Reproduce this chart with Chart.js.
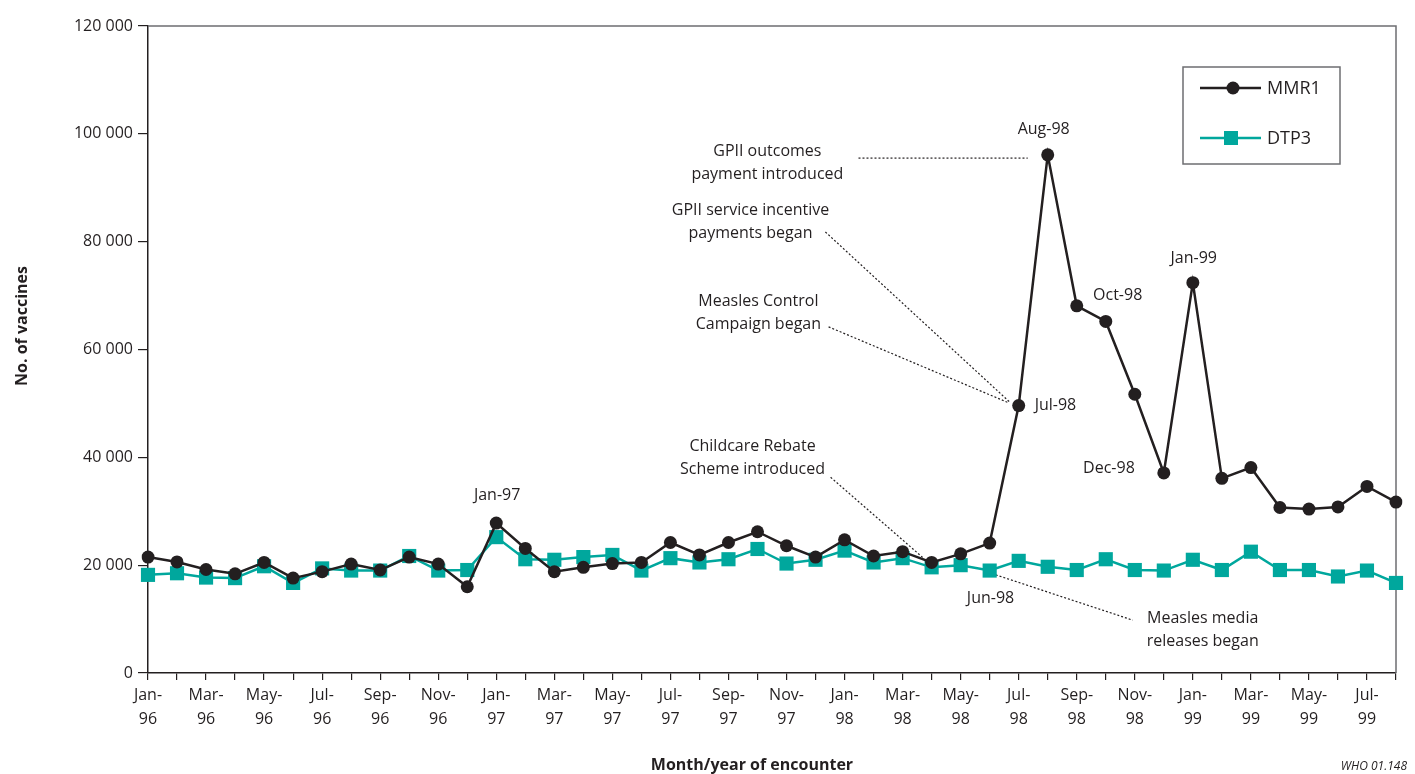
<!DOCTYPE html>
<html>
<head>
<meta charset="utf-8">
<script src="https://cdn.jsdelivr.net/npm/chart.js@4/dist/chart.umd.min.js"></script>
<style>
  html, body { margin: 0; padding: 0; background: #fff; }
  #wrap { width: 1415px; height: 774px; position: relative; }
</style>
</head>
<body>
<div id="wrap"><canvas id="chart"></canvas></div>
<script>
const months = [
  'Jan-96','Feb-96','Mar-96','Apr-96','May-96','Jun-96','Jul-96','Aug-96','Sep-96','Oct-96','Nov-96','Dec-96',
  'Jan-97','Feb-97','Mar-97','Apr-97','May-97','Jun-97','Jul-97','Aug-97','Sep-97','Oct-97','Nov-97','Dec-97',
  'Jan-98','Feb-98','Mar-98','Apr-98','May-98','Jun-98','Jul-98','Aug-98','Sep-98','Oct-98','Nov-98','Dec-98',
  'Jan-99','Feb-99','Mar-99','Apr-99','May-99','Jun-99','Jul-99','Aug-99'
];

const mmr1 = [
  21500, 20600, 19200, 18400, 20500, 17600, 18800, 20200, 19100, 21500, 20200, 16000,
  27800, 23100, 18800, 19600, 20300, 20500, 24200, 21900, 24200, 26200, 23600, 21500,
  24700, 21700, 22500, 20500, 22100, 24100, 49600, 96100, 68100, 65200, 51700, 37100,
  72400, 36100, 38100, 30700, 30400, 30800, 34600, 31700
];

const dtp3 = [
  18200, 18500, 17700, 17600, 19800, 16700, 19400, 19000, 19000, 21700, 19000, 19100,
  25200, 21100, 21000, 21500, 21900, 19000, 21300, 20500, 21100, 23000, 20300, 21000,
  22700, 20500, 21300, 19600, 20000, 19000, 20800, 19700, 19100, 21100, 19100, 19000,
  21000, 19100, 22500, 19100, 19100, 17900, 19000, 16700
];

const yTicks = [0, 20000, 40000, 60000, 80000, 100000, 120000];

// labels: [text lines, x index, y value, align]
const pointLabels = [
  [['Jan-97'], 12.03, 33000, 'center'],
  [['Aug-98'], 30.86, 100900, 'center'],
  [['Oct-98'], 33.41, 70100, 'center'],
  [['Jan-99'], 36.03, 76800, 'center'],
  [['Jul-98'], 30.55, 49700, 'left'],
  [['Dec-98'], 34.0, 38000, 'right'],
  [['Jun-98'], 29.03, 13900, 'center']
];

const notes = [
  [['GPII outcomes', 'payment introduced'], 21.34, 96800],
  [['GPII service incentive', 'payments began'], 20.76, 85700],
  [['Measles Control', 'Campaign began'], 21.03, 69000],
  [['Childcare Rebate', 'Scheme introduced'], 20.83, 42100],
  [['Measles media', 'releases began'], 36.34, 10200]
];

// leader lines: x1, y1, x2, y2 in (index, value)
const leaders = [
  [24.48, 95500, 30.31, 95500],
  [23.34, 81800, 29.72, 50100],
  [23.45, 64200, 29.66, 50100],
  [23.52, 36300, 26.72, 21300],
  [29.21, 18200, 33.93, 9800]
];

const INK = '#231f20';
const TEAL = '#00a79d';
const FONT = '"Open Sans", "Noto Sans", sans-serif';

const fmt = v => String(v).replace(/\B(?=(\d{3})+(?!\d))/g, ' ');

const extras = {
  id: 'extras',
  beforeDatasetsDraw(chart) {
    const { ctx, chartArea: a } = chart;
    ctx.save();
    ctx.strokeStyle = '#6d6e71';
    ctx.lineWidth = 1.5;
    ctx.beginPath();
    ctx.moveTo(a.left, a.top);
    ctx.lineTo(a.right, a.top);
    ctx.lineTo(a.right, a.bottom);
    ctx.stroke();

    // leader lines
    const xs = chart.scales.x, ys = chart.scales.y;
    ctx.strokeStyle = INK;
    ctx.lineWidth = 1.2;
    ctx.setLineDash([2, 2]);
    leaders.forEach(([x1, y1, x2, y2]) => {
      ctx.beginPath();
      ctx.moveTo(xs.getPixelForValue(x1), ys.getPixelForValue(y1));
      ctx.lineTo(xs.getPixelForValue(x2), ys.getPixelForValue(y2));
      ctx.stroke();
    });
    ctx.restore();
  },
  afterDraw(chart) {
    const { ctx } = chart;
    const xs = chart.scales.x, ys = chart.scales.y;
    ctx.save();
    ctx.fillStyle = INK;
    ctx.textBaseline = 'middle';
    ctx.font = '16px ' + FONT;
    pointLabels.forEach(([lines, xi, yv, align]) => {
      ctx.textAlign = align;
      ctx.fillText(lines[0], xs.getPixelForValue(xi), ys.getPixelForValue(yv));
    });
    ctx.textAlign = 'center';
    notes.forEach(([lines, xi, yv]) => {
      const x = xs.getPixelForValue(xi), y = ys.getPixelForValue(yv);
      lines.forEach((t, i) => ctx.fillText(t, x, y + i * 23));
    });

    // legend
    ctx.strokeStyle = '#6d6e71';
    ctx.lineWidth = 1.5;
    ctx.strokeRect(1183, 67, 157, 97);
    ctx.lineWidth = 2.5;
    ctx.strokeStyle = INK;
    ctx.beginPath(); ctx.moveTo(1200, 88); ctx.lineTo(1261, 88); ctx.stroke();
    ctx.beginPath(); ctx.arc(1233, 88, 6.5, 0, Math.PI * 2); ctx.fill();
    ctx.strokeStyle = TEAL;
    ctx.fillStyle = TEAL;
    ctx.beginPath(); ctx.moveTo(1200, 138); ctx.lineTo(1261, 138); ctx.stroke();
    ctx.fillRect(1224, 131, 14, 14);
    ctx.fillStyle = INK;
    ctx.textAlign = 'left';
    ctx.font = '18px ' + FONT;
    ctx.fillText('MMR1', 1267, 89);
    ctx.fillText('DTP3', 1267, 139);

    // axis titles
    ctx.font = 'bold 16px ' + FONT;
    ctx.textAlign = 'center';
    ctx.fillText('Month/year of encounter', 752, 765);
    ctx.save();
    ctx.translate(22, 326);
    ctx.rotate(-Math.PI / 2);
    ctx.fillText('No. of vaccines', 0, 0);
    ctx.restore();

    ctx.font = 'italic 12px ' + FONT;
    ctx.textAlign = 'right';
    ctx.fillText('WHO 01.148', 1407, 767);
    ctx.restore();
  }
};

new Chart(document.getElementById('chart'), {
  type: 'line',
  data: {
    labels: months,
    datasets: [
      {
        label: 'MMR1',
        data: mmr1,
        borderColor: INK,
        backgroundColor: INK,
        borderWidth: 2.5,
        pointStyle: 'circle',
        pointRadius: 6.5,
        pointBorderWidth: 0,
        tension: 0
      },
      {
        label: 'DTP3',
        data: dtp3,
        borderColor: TEAL,
        backgroundColor: TEAL,
        borderWidth: 2.5,
        pointStyle: 'rect',
        pointRadius: 10,
        pointBorderWidth: 0,
        tension: 0
      }
    ]
  },
  options: {
    responsive: true,
    maintainAspectRatio: false,
    animation: false,
    layout: { padding: { top: 26, right: 19, left: 0, bottom: 0 } },
    plugins: { legend: { display: false }, tooltip: { enabled: false } },
    scales: {
      x: {
        offset: false,
        grid: { drawOnChartArea: false, drawTicks: true, tickLength: 7, color: INK, lineWidth: 1.2 },
        border: { display: true, color: INK, width: 1.5 },
        ticks: {
          autoSkip: false,
          maxRotation: 0,
          padding: 3,
          color: INK,
          font: { family: FONT, size: 16, lineHeight: 1.5 },
          callback: (v, i) => i % 2 === 0 ? [months[i].slice(0, 4), months[i].slice(4)] : ''
        },
        afterFit: s => { s.height = 101; }
      },
      y: {
        min: 0,
        max: 120000,
        afterBuildTicks: s => { s.ticks = yTicks.map(v => ({ value: v })); },
        grid: { drawOnChartArea: false, drawTicks: true, tickLength: 10, color: INK, lineWidth: 1.2 },
        border: { display: true, color: INK, width: 1.5 },
        ticks: {
          padding: 5,
          color: INK,
          font: { family: FONT, size: 16 },
          callback: v => fmt(v)
        },
        afterFit: s => { s.width = 148; }
      }
    }
  },
  plugins: [extras]
});
</script>
</body>
</html>
